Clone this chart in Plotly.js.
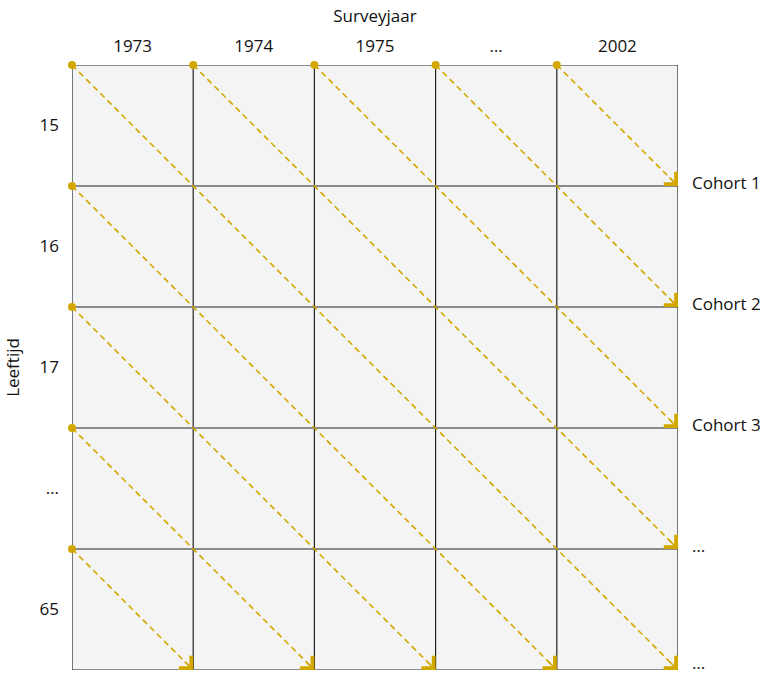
<!DOCTYPE html>
<html>
<head>
<meta charset="utf-8">
<script src="https://cdn.plot.ly/plotly-3.0.1.min.js"></script>
<style>html,body{margin:0;padding:0;background:#fff;}#chart{width:767px;height:674px;}</style>
</head>
<body>
<div id="chart"></div>
<script>
// ---- data ----
const surveyYears = ['1973', '1974', '1975', '…', '2002'];
const ages = ['15', '16', '17', '…', '65'];
const cohorts = ['Cohort 1', 'Cohort 2', 'Cohort 3', '…', '…'];
const xTitle = 'Surveyjaar';
const yTitle = 'Leeftijd';

const gold = '#d2a800';
const nCol = surveyYears.length;
const nRow = ages.length;

const traces = [];
const annotations = [];
const startX = [], startY = [];

function addDiagonal(x0, y0) {
  const len = Math.min(nCol - x0, nRow - y0);
  const x1 = x0 + len, y1 = y0 + len;
  traces.push({
    x: [x0, x1], y: [y0, y1], mode: 'lines', type: 'scatter',
    line: {color: gold, width: 1.6, dash: '6px,4px'},
    hoverinfo: 'skip', showlegend: false, cliponaxis: false
  });
  startX.push(x0); startY.push(y0);
  annotations.push({
    x: x1, y: y1, xref: 'x', yref: 'y', ax: -10, ay: -10,
    showarrow: true, arrowhead: 4, arrowsize: 2.1, arrowwidth: 1.6,
    arrowcolor: gold, standoff: 0, text: ''
  });
}
for (let c = 0; c < nCol; c++) addDiagonal(c, 0);
for (let r = 1; r < nRow; r++) addDiagonal(0, r);

traces.push({
  x: startX, y: startY, mode: 'markers', type: 'scatter',
  marker: {color: gold, size: 8}, hoverinfo: 'skip', showlegend: false, cliponaxis: false
});

const font = {family: 'Open Sans, sans-serif', size: 17, color: '#111'};

// cohort labels on the right, at each row boundary
cohorts.forEach((label, i) => {
  const last = i === cohorts.length - 1;
  annotations.push({
    x: nCol, y: i + 1, xref: 'x', yref: 'y', text: label, showarrow: false,
    xanchor: 'left', yanchor: 'middle', xshift: 13, yshift: last ? 8 : 4,
    borderpad: 0, font: font
  });
});

// grid lines
const shapes = [];
for (let c = 0; c <= nCol; c++) {
  shapes.push({type: 'line', xref: 'x', yref: 'y', x0: c, x1: c, y0: 0, y1: nRow,
    line: {color: '#222', width: 1.2}, layer: 'below'});
}
for (let r = 0; r <= nRow; r++) {
  shapes.push({type: 'line', xref: 'x', yref: 'y', x0: 0, x1: nCol, y0: r, y1: r,
    line: {color: '#222', width: 1.2}, layer: 'below'});
}

const layout = {
  width: 767, height: 674,
  margin: {l: 72, r: 89, t: 65, b: 4},
  paper_bgcolor: '#fff', plot_bgcolor: '#f4f4f4',
  font: font,
  showlegend: false,
  xaxis: {
    side: 'top', range: [0, nCol], showgrid: false, zeroline: false, showline: false,
    tickvals: surveyYears.map((_, i) => i + 0.5), ticktext: surveyYears,
    ticks: '', ticklabelstandoff: 9,
    title: {text: xTitle, font: font, standoff: 6}, automargin: false, fixedrange: true
  },
  yaxis: {
    range: [nRow, 0], showgrid: false, zeroline: false, showline: false,
    tickvals: ages.map((_, i) => i + 0.5), ticktext: ages,
    ticks: '', ticklabelstandoff: 12,
    title: {text: yTitle, font: font, standoff: 15}, automargin: false, fixedrange: true
  },
  shapes: shapes,
  annotations: annotations
};

Plotly.newPlot('chart', traces, layout, {displayModeBar: false, staticPlot: true});
</script>
</body>
</html>
